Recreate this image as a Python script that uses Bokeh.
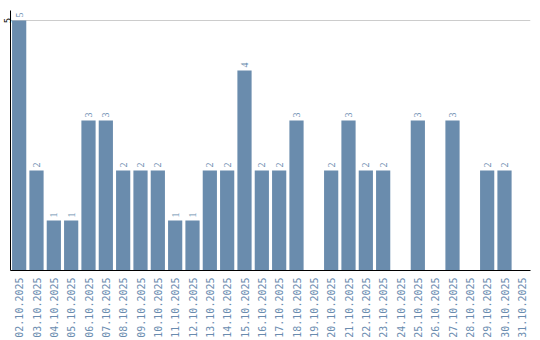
import math
from bokeh.plotting import figure
from bokeh.models import ColumnDataSource, FactorRange, Range1d, FixedTicker, LabelSet
from bokeh.embed import file_html
from bokeh.resources import INLINE

dates = ["02.10.2025", "03.10.2025", "04.10.2025", "05.10.2025", "06.10.2025",
         "07.10.2025", "08.10.2025", "09.10.2025", "10.10.2025", "11.10.2025",
         "12.10.2025", "13.10.2025", "14.10.2025", "15.10.2025", "16.10.2025",
         "17.10.2025", "18.10.2025", "19.10.2025", "20.10.2025", "21.10.2025",
         "22.10.2025", "23.10.2025", "24.10.2025", "25.10.2025", "26.10.2025",
         "27.10.2025", "28.10.2025", "29.10.2025", "30.10.2025", "31.10.2025"]
counts = [5, 2, 1, 1, 3, 3, 2, 2, 2, 1, 1, 2, 2, 4, 2, 2, 3, 0, 2, 3, 2, 2, 0, 3, 0, 3, 0, 2, 2, 0]
y_ticks = [5]

BAR = "#6a8cad"
LBL = "#6a8caf"
FONT = "DejaVu Sans Mono"

src = ColumnDataSource(dict(x=dates, top=counts))
lab_x = [d for d, c in zip(dates, counts) if c > 0]
lab_y = [c for c in counts if c > 0]
lab_src = ColumnDataSource(dict(x=lab_x, y=lab_y, t=[str(v) for v in lab_y]))

p = figure(width=540, height=340, output_backend="svg", toolbar_location=None,
           x_range=FactorRange(factors=dates, start=0.09, end=30.68),
           y_range=Range1d(0, 5.2),
           min_border_left=0, min_border_right=10, min_border_top=10, min_border_bottom=0)
p.outline_line_color = None
p.background_fill_color = "white"
p.border_fill_color = "white"

p.vbar(x="x", top="top", width=0.82, source=src, fill_color=BAR, line_color=None)

labels = LabelSet(x="x", y="y", text="t", source=lab_src, angle=math.pi / 2,
                  text_align="left", text_baseline="middle", y_offset=3,
                  text_font=FONT, text_font_size="10px", text_color=LBL)
p.add_layout(labels)

p.xgrid.grid_line_color = None
p.ygrid.ticker = FixedTicker(ticks=y_ticks)
p.ygrid.grid_line_color = "#cccccc"

p.yaxis.ticker = FixedTicker(ticks=y_ticks)
p.yaxis.major_label_orientation = "parallel"
p.yaxis.major_label_standoff = 0
p.yaxis.major_tick_out = 0
p.yaxis.major_tick_in = 0
p.yaxis.major_tick_line_color = None
p.yaxis.minor_tick_line_color = None
p.yaxis.axis_line_color = "black"
p.yaxis.major_label_text_font = FONT
p.yaxis.major_label_text_font_size = "9px"
p.yaxis.major_label_text_color = "black"

p.xaxis.major_label_orientation = math.pi / 2
p.xaxis.major_label_standoff = 7
p.xaxis.major_tick_out = 0
p.xaxis.major_tick_in = 0
p.xaxis.major_tick_line_color = None
p.xaxis.minor_tick_line_color = None
p.xaxis.axis_line_color = "black"
p.xaxis.major_label_text_font = FONT
p.xaxis.major_label_text_font_size = "10px"
p.xaxis.major_label_text_color = LBL

open("out.html", "w").write(file_html(p, INLINE))
